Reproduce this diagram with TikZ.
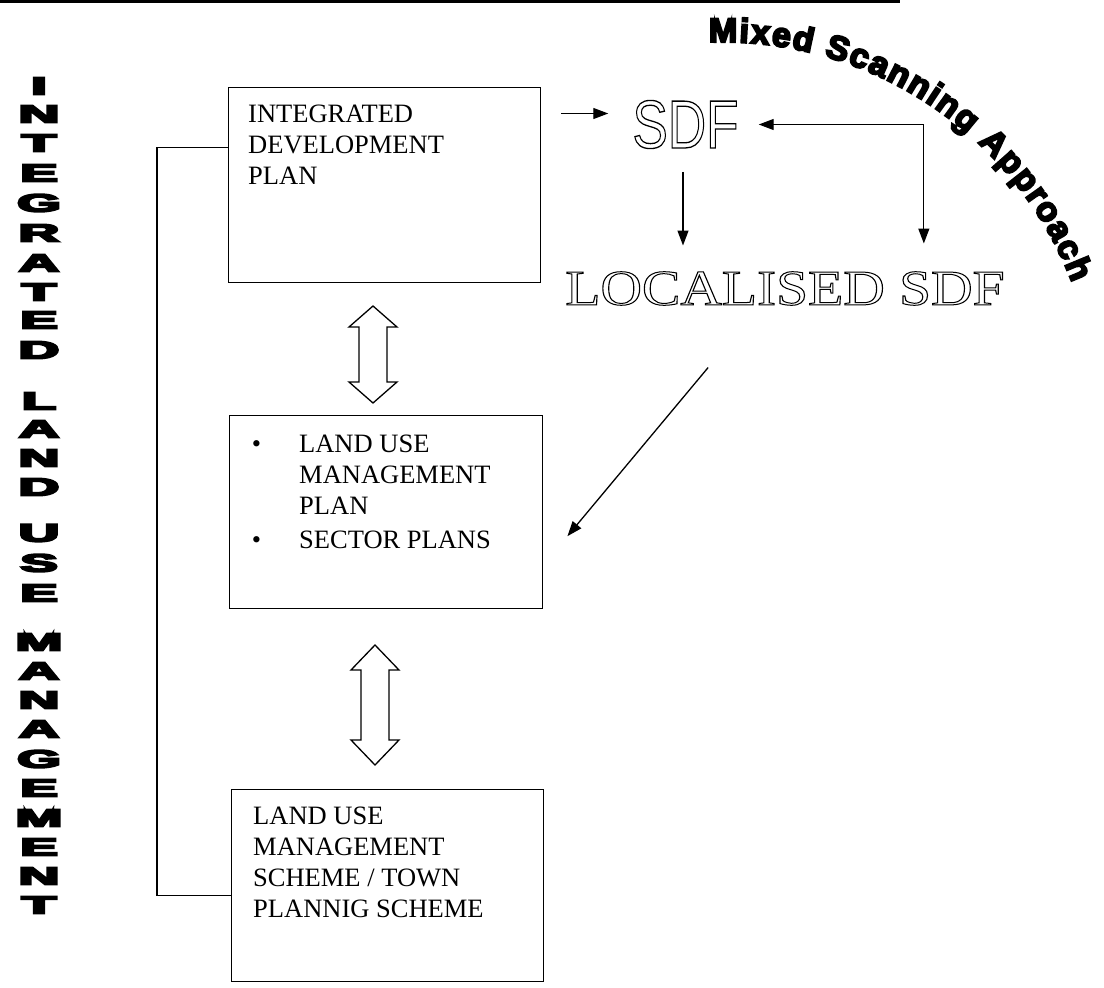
\documentclass[tikz,border=0pt]{standalone}
\usepackage{fontspec}
\setmainfont{Liberation Serif}
\usetikzlibrary{arrows.meta,calc,decorations.text}
\newfontfamily\heavysans{Liberation Sans Bold}[FakeBold=7]
\newfontfamily\arcsans{Liberation Sans Bold}[FakeBold=6]
\newfontfamily\plainsans{Liberation Sans}
% hollow (stroked outline) lettering
\newcommand\hollow[2]{\special{pdf:literal direct #1 w 1 Tr}#2\special{pdf:literal direct 0 Tr}}
% open double-headed block arrow: centre x, top tip, bottom tip, head length
\newcommand\twoway[4]{%
  \draw[conn] (#1,#2) -- ++(24,#4) -- ++(-10,0) -- (#1+14,#3-#4) -- ++(10,0)
    -- (#1,#3) -- ++(-24,-#4) -- ++(10,0) -- (#1-14,#2+#4) -- ++(-10,0) -- cycle;}
\begin{document}
\begin{tikzpicture}[x=1pt,y=-1pt,line join=miter,
  box/.style={draw,line width=1.4pt,inner sep=0pt,anchor=north west},
  boxtext/.style={anchor=north west,inner sep=0pt,align=left,
    font=\fontsize{26.5}{31}\selectfont},
  conn/.style={line width=1.3pt},
  tip/.tip={Triangle[length=15pt,width=11pt]},
  arr/.style={conn,-tip},
  stack/.style={inner sep=0pt,font=\heavysans\fontsize{25}{25}\selectfont}]
\useasboundingbox (0,0) rectangle (1104,988);
\fill[white] (0,0) rectangle (1104,988);

% rule along the top
\draw[line width=2.5pt] (0,1.5) -- (900,1.5);

% vertical title, one letter per row
\foreach \ch/\yy in {I/86,N/114,T/143,E/173,G/203,R/233,A/263,T/292,E/320,D/350,
  L/401,A/429,N/458,D/487,U/533,S/563,E/593,M/642,A/671,N/700,A/729,G/759,
  E/788,M/818,E/847,N/876,T/905}
  \node[stack] (v\yy) at (39,\yy) {\scalebox{2.25}[1]{\ch}};

% boxes
\node[box,minimum width=312,minimum height=195] (idp) at (228,87) {};
\node[box,minimum width=313,minimum height=193] (lump) at (229,415) {};
\node[box,minimum width=312,minimum height=192] (lums) at (231,789) {};

\node[boxtext] (idpt) at (248,105) {INTEGRATED\\DEVELOPMENT\\PLAN};
\node[boxtext] (lumpt) at (299,435)
  {\makebox[0pt][r]{\textbullet\hspace{38pt}}LAND USE\\MANAGEMENT\\PLAN\\[3pt]%
   \makebox[0pt][r]{\textbullet\hspace{38pt}}SECTOR PLANS};
\node[boxtext] (lumst) at (253,807)
  {LAND USE\\MANAGEMENT\\SCHEME / TOWN\\PLANNIG SCHEME};

% two-way block arrows between the boxes
\twoway{373}{306}{403}{21}
\twoway{375}{645}{765}{25}

% feedback line from the IDP round to the scheme
\draw[conn] ($(idp.west)+(0,-37.5)$) -| ($(lums.west)+(-74,10)$) -- ($(lums.west)+(0,10)$);

% SDF labels
\node[inner sep=0pt] (sdf) at (685.5,124.5)
  {\plainsans\fontsize{68}{68}\selectfont\scalebox{0.78}[1]{\hollow{1.3}{SDF}}};
\node[inner sep=0pt] (loc) at (785,288.5)
  {\fontsize{50}{50}\selectfont\scalebox{1.15}[1]{\hollow{1.0}{LOCALISED SDF}}};

% arrows around the SDF
\draw[arr] ($(sdf.west)+(-71,-11)$) -- ($(sdf.west)+(-24,-11)$);
\draw[conn,tip-tip] ($(sdf.east)+(20,0)$) -| ($(loc.north east)+(-81,-28)$);
\draw[arr] ($(sdf.south)+(-2.5,23)$) -- ($(sdf.south |- loc.north)+(-2.5,-26)$);
\draw[arr] ($(loc.south west)+(143,62)$) -- ($(lump.east)+(24,24)$);

% arched caption
\path[decorate,decoration={text along path,
  text={|\arcsans\fontsize{34}{34}\selectfont|Mixed Scanning Approach},
  text align={fit to path}}]
  (722,417) ++(-92:375) arc[start angle=-92,end angle=-21,radius=375];
\end{tikzpicture}
\end{document}
